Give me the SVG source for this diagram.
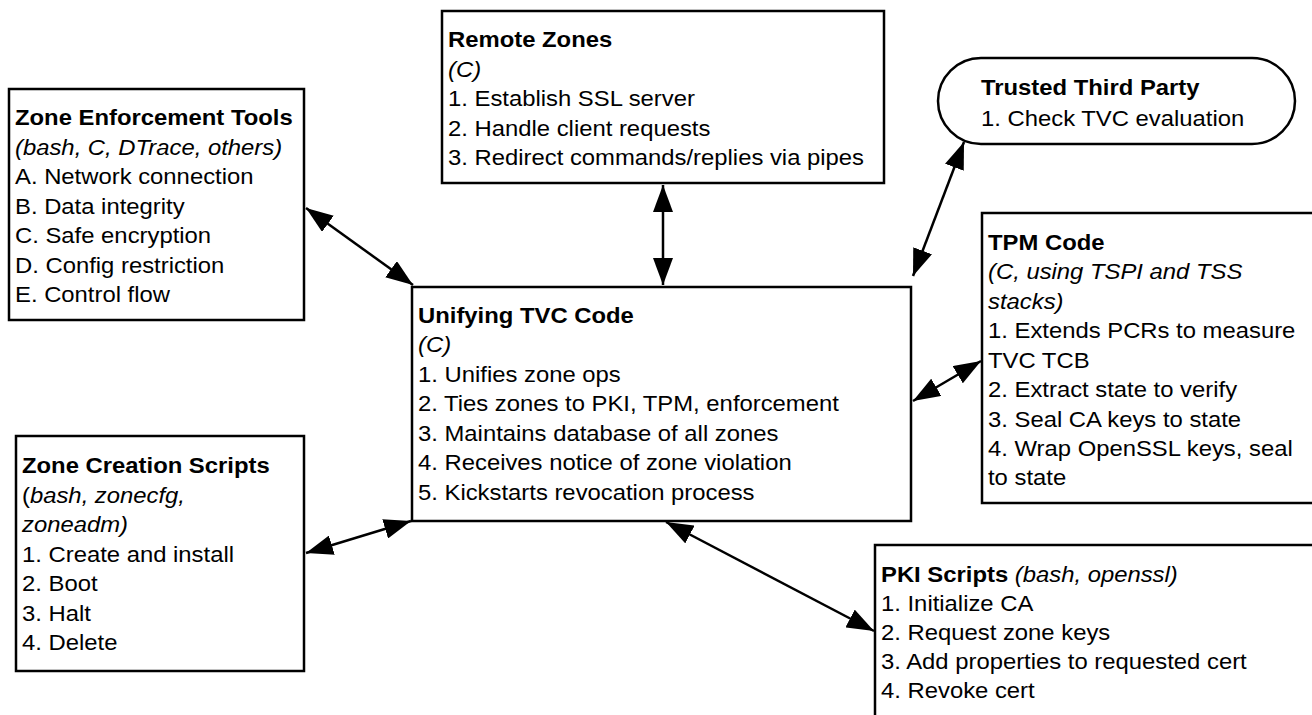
<svg xmlns="http://www.w3.org/2000/svg" width="1312" height="715" viewBox="0 0 1312 715">
<defs>
<style>
.box{fill:#fff;stroke:#000;stroke-width:2.5}
.edge{stroke:#000;stroke-width:2.5;fill:none;marker-start:url(#ah);marker-end:url(#ah)}
text{font-family:"Liberation Sans",Arial,Helvetica,sans-serif;font-size:22.5px;fill:#000}
.b{font-weight:bold}
.i{font-style:italic}
</style>
<marker id="ah" markerUnits="userSpaceOnUse" markerWidth="27" markerHeight="20" refX="27" refY="10" orient="auto-start-reverse" viewBox="0 0 27 20">
<path d="M0,0 L27,10 L0,20 z" fill="#000"/>
</marker>
</defs>
<rect width="1312" height="715" fill="#fff"/>

<g id="connectors">
<line class="edge" x1="306" y1="208" x2="413" y2="285"/>
<line class="edge" x1="663" y1="185" x2="663" y2="285"/>
<line class="edge" x1="964" y1="142" x2="913" y2="276"/>
<line class="edge" x1="981" y1="361" x2="913" y2="401"/>
<line class="edge" x1="306" y1="553" x2="411" y2="521"/>
<line class="edge" x1="666" y1="522" x2="874" y2="631"/>
</g>

<g id="enforcement">
<rect class="box" x="9" y="89" width="295" height="231"/>
<g transform="translate(15 0) scale(1.06 1)">
<text class="b" x="0" y="125">Zone Enforcement Tools</text>
<text class="i" x="0" y="155">(bash, C, DTrace, others)</text>
<text x="0" y="184.5">A. Network connection</text>
<text x="0" y="214">B. Data integrity</text>
<text x="0" y="243.5">C. Safe encryption</text>
<text x="0" y="273">D. Config restriction</text>
<text x="0" y="302.5">E. Control flow</text>
</g>
</g>

<g id="remote">
<rect class="box" x="442" y="11" width="442" height="172"/>
<g transform="translate(448 0) scale(1.06 1)">
<text class="b" x="0" y="47">Remote Zones</text>
<text class="i" x="0" y="77">(C)</text>
<text x="0" y="106.5">1. Establish SSL server</text>
<text x="0" y="136">2. Handle client requests</text>
<text x="0" y="165.5">3. Redirect commands/replies via pipes</text>
</g>
</g>

<g id="trusted">
<rect class="box" x="938" y="58" width="357" height="86" rx="43" ry="43"/>
<g transform="translate(981 0) scale(1.06 1)">
<text class="b" x="0" y="95">Trusted Third Party</text>
<text x="0" y="126">1. Check TVC evaluation</text>
</g>
</g>

<g id="tpm">
<rect class="box" x="982" y="213" width="345" height="290"/>
<g transform="translate(988 0) scale(1.06 1)">
<text class="b" x="0" y="250">TPM Code</text>
<text class="i" x="0" y="279.5">(C, using TSPI and TSS</text>
<text class="i" x="0" y="309">stacks)</text>
<text x="0" y="338.5">1. Extends PCRs to measure</text>
<text x="0" y="368">TVC TCB</text>
<text x="0" y="397.5">2. Extract state to verify</text>
<text x="0" y="427">3. Seal CA keys to state</text>
<text x="0" y="456">4. Wrap OpenSSL keys, seal</text>
<text x="0" y="485.5">to state</text>
</g>
</g>

<g id="unifying">
<rect class="box" x="412" y="287" width="499" height="234"/>
<g transform="translate(418 0) scale(1.06 1)">
<text class="b" x="0" y="323">Unifying TVC Code</text>
<text class="i" x="0" y="352">(C)</text>
<text x="0" y="382">1. Unifies zone ops</text>
<text x="0" y="411.5">2. Ties zones to PKI, TPM, enforcement</text>
<text x="0" y="441">3. Maintains database of all zones</text>
<text x="0" y="470.5">4. Receives notice of zone violation</text>
<text x="0" y="500">5. Kickstarts revocation process</text>
</g>
</g>

<g id="creation">
<rect class="box" x="16" y="436" width="288" height="235"/>
<g transform="translate(22 0) scale(1.06 1)">
<text class="b" x="0" y="473">Zone Creation Scripts</text>
<text x="0" y="503">(<tspan class="i">bash, zonecfg,</tspan></text>
<text class="i" x="0" y="532">zoneadm)</text>
<text x="0" y="562">1. Create and install</text>
<text x="0" y="591.5">2. Boot</text>
<text x="0" y="621">3. Halt</text>
<text x="0" y="650">4. Delete</text>
</g>
</g>

<g id="pki">
<rect class="box" x="875" y="545" width="450" height="200"/>
<g transform="translate(881 0) scale(1.06 1)">
<text x="0" y="582"><tspan class="b">PKI Scripts</tspan><tspan class="i"> (bash, openssl)</tspan></text>
<text x="0" y="611">1. Initialize CA</text>
<text x="0" y="640">2. Request zone keys</text>
<text x="0" y="669">3. Add properties to requested cert</text>
<text x="0" y="698">4. Revoke cert</text>
</g>
</g>
</svg>
